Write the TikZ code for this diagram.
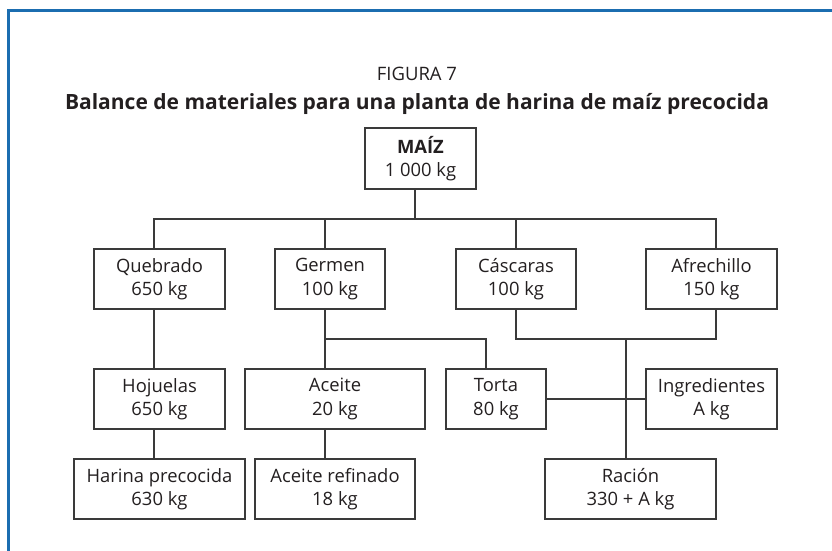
\documentclass[tikz,border=0pt]{standalone}
\usepackage{fontspec}
\setmainfont{Open Sans}
\definecolor{framec}{HTML}{1B6DB0}
\definecolor{linec}{HTML}{3A3A3A}
\definecolor{textc}{HTML}{231F20}
\begin{document}
\begin{tikzpicture}[x=1pt,y=-1pt,
  boxnode/.style={draw=linec, line width=1.1pt, fill=white, align=center,
    inner sep=0pt, minimum height=60pt, text=textc,
    font=\fontsize{18.4}{23.5}\selectfont},
  link/.style={draw=linec, line width=1.1pt},
  titlenode/.style={text=textc, inner sep=0pt}]
\useasboundingbox (0,0) rectangle (832,551);
\draw[framec, line width=3pt] (832,11) -- (8,11) -- (8,551);

\node[titlenode, font=\fontsize{18.5}{22}\selectfont] (fig) at (417,74) {FIGURA 7};
\node[titlenode, font=\fontsize{21}{24}\selectfont\bfseries] (title) at (417,104)
  {Balance de materiales para una planta de harina de maíz precocida};

\node[boxnode, minimum width=111pt, minimum height=61pt] (maiz) at (420.5,158.5) {\textbf{MAÍZ}\\1 000 kg};
\node[boxnode, minimum width=131pt] (quebrado) at (159.5,279) {Quebrado\\650 kg};
\node[boxnode, minimum width=110pt] (germen) at (330,279) {Germen\\100 kg};
\node[boxnode, minimum width=120pt] (cascaras) at (516,279) {Cáscaras\\100 kg};
\node[boxnode, minimum width=131pt] (afrechillo) at (711.5,279) {Afrechillo\\150 kg};
\node[boxnode, minimum width=131pt] (hojuelas) at (159.5,399) {Hojuelas\\650 kg};
\node[boxnode, minimum width=180pt] (aceite) at (335,399) {Aceite\\20 kg};
\node[boxnode, minimum width=100pt] (torta) at (496,399) {Torta\\80 kg};
\node[boxnode, minimum width=131pt] (ingredientes) at (711.5,399) {Ingredientes\\A kg};
\node[boxnode, minimum width=171pt] (harina) at (159.5,489) {Harina precocida\\630 kg};
\node[boxnode, minimum width=160pt] (refinado) at (335,489) {Aceite refinado\\18 kg};
\node[boxnode, minimum width=171pt] (racion) at (630.5,489) {Ración\\330 + A kg};

\coordinate (jm) at (415,219);
\coordinate (cq) at (154,219);
\coordinate (cg) at (325,219);
\coordinate (cc) at (516,219);
\coordinate (ca) at (716,219);
\coordinate (jg) at (325,339);
\coordinate (ct) at (486,339);
\coordinate (jc) at (516,339);
\coordinate (ja) at (716,339);
\coordinate (jr) at (626,339);

\draw[link] (maiz.south -| jm) -- (jm);
\draw[link] (quebrado.north -| cq) -- (cq) -- (ca) -- (afrechillo.north -| ca);
\draw[link] (germen.north -| cg) -- (cg);
\draw[link] (cascaras.north -| cc) -- (cc);
\draw[link] (quebrado.south -| cq) -- (hojuelas.north -| cq);
\draw[link] (hojuelas.south -| cq) -- (harina.north -| cq);
\draw[link] (germen.south -| cg) -- (aceite.north -| cg);
\draw[link] (jg) -- (ct) -- (torta.north -| ct);
\draw[link] (aceite.south -| cg) -- (refinado.north -| cg);
\draw[link] (cascaras.south -| jc) -- (jc) -- (ja) -- (afrechillo.south -| ja);
\draw[link] (jr) -- (racion.north -| jr);
\draw[link] (torta.east) -- (ingredientes.west);
\end{tikzpicture}
\end{document}
